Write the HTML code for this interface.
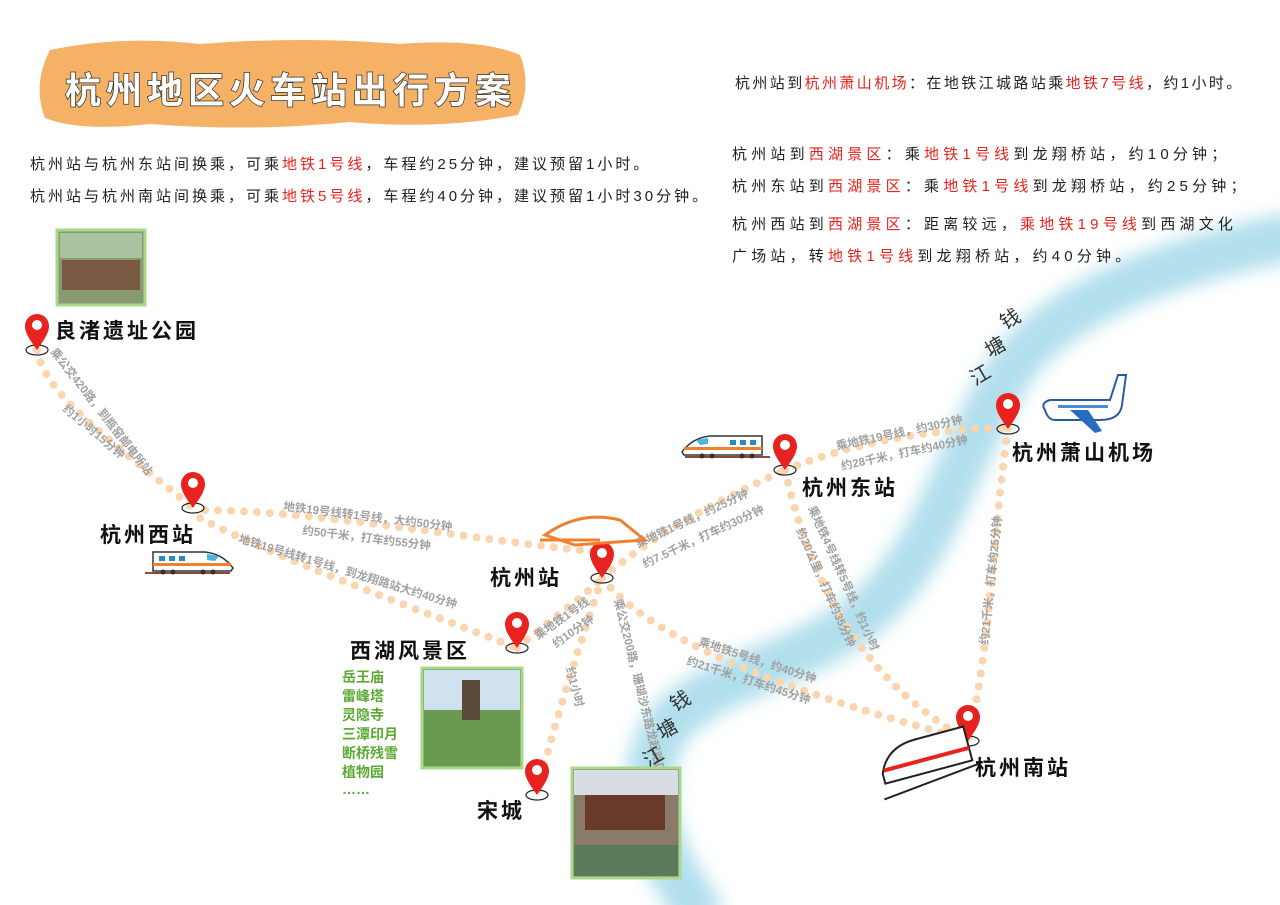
<!DOCTYPE html>
<html><head><meta charset="utf-8"><style>
html,body{margin:0;padding:0;background:#fff}
svg{display:block}
text{font-family:"Liberation Sans","Noto Sans CJK SC",sans-serif}
.t{font-size:15px;fill:#222}
.r{fill:#e8231f}
.lbl{font-size:11.5px;fill:#a0a0a0;font-weight:bold}
.st{font-size:21px;font-weight:bold;fill:#111;letter-spacing:3px}
.g{font-size:14px;fill:#5aaa32;font-weight:bold}
.d{fill:none;stroke:#fad6ae;stroke-width:8;stroke-linecap:round;stroke-dasharray:0 13}
</style></head><body>
<svg width="1280" height="905" viewBox="0 0 1280 905" xmlns="http://www.w3.org/2000/svg">
<defs>
<filter id="bl" x="-20%" y="-20%" width="140%" height="140%"><feGaussianBlur stdDeviation="9"/></filter>
<g id="pin"><path d="M0,0 C-7,-10 -12,-17 -12,-24 A12,12 0 1 1 12,-24 C12,-17 7,-10 0,0Z" fill="#e8231f"/><circle cx="0" cy="-25" r="5" fill="#fff"/></g>
<g id="train"><rect x="0" y="24" width="85" height="2" fill="#8b4b3a"/><path d="M8,4 H60 Q78,6 88,20 L86,23 H8Z" fill="#fff" stroke="#333" stroke-width="1.5"/><rect x="8" y="15" width="78" height="3" fill="#f08030"/><rect x="14" y="8" width="6" height="5" fill="#2a8ac0"/><rect x="24" y="8" width="6" height="5" fill="#2a8ac0"/><rect x="34" y="8" width="6" height="5" fill="#2a8ac0"/><path d="M62,6 L74,8 L70,13 L62,12Z" fill="#4ab3e0"/><circle cx="18" cy="24" r="2.5" fill="#333"/><circle cx="28" cy="24" r="2.5" fill="#333"/><circle cx="58" cy="24" r="2.5" fill="#333"/><circle cx="68" cy="24" r="2.5" fill="#333"/></g>
</defs>
<g filter="url(#bl)" opacity="0.6">
<path d="M1300,235 C1170,260 1060,300 1010,370 C960,450 940,540 880,600 C810,670 710,670 665,730 C630,790 660,860 705,920" fill="none" stroke="#7ec9e0" stroke-width="48"/>
</g>
<path d="M50,50 Q120,35 200,44 Q300,36 400,44 Q480,38 520,55 Q532,85 518,115 Q440,130 350,122 Q250,132 150,124 Q80,132 45,118 Q32,85 50,50Z" fill="#f5b266"/>
<text x="65" y="103" font-size="36" font-weight="bold" fill="#fff" stroke="#333" stroke-width="1.5" paint-order="stroke" letter-spacing="5">杭州地区火车站出行方案</text>
<text class="t" x="30" y="169" font-size="14.5" letter-spacing="3">杭州站与杭州东站间换乘，可乘<tspan class="r">地铁1号线</tspan>，车程约25分钟，建议预留1小时。</text>
<text class="t" x="30" y="201" font-size="14.5" letter-spacing="3">杭州站与杭州南站间换乘，可乘<tspan class="r">地铁5号线</tspan>，车程约40分钟，建议预留1小时30分钟。</text>
<text class="t" x="735" y="88" letter-spacing="2.4">杭州站到<tspan class="r">杭州萧山机场</tspan>：在地铁江城路站乘<tspan class="r">地铁7号线</tspan>，约1小时。</text>
<g letter-spacing="4.2">
<text class="t" x="732" y="159">杭州站到<tspan class="r">西湖景区</tspan>：乘<tspan class="r">地铁1号线</tspan>到龙翔桥站，约10分钟；</text>
<text class="t" x="732" y="191">杭州东站到<tspan class="r">西湖景区</tspan>：乘<tspan class="r">地铁1号线</tspan>到龙翔桥站，约25分钟；</text>
<text class="t" x="732" y="229">杭州西站到<tspan class="r">西湖景区</tspan>：距离较远，<tspan class="r">乘地铁19号线</tspan>到西湖文化</text>
<text class="t" x="732" y="261">广场站，转<tspan class="r">地铁1号线</tspan>到龙翔桥站，约40分钟。</text>
</g>
<path class="d" d="M37,350 C45,395 110,440 193,508"/>
<path class="d" d="M205,510 C330,512 470,540 600,552"/>
<path class="d" d="M200,518 C280,560 420,610 517,648"/>
<path class="d" d="M517,648 C550,620 580,600 602,578"/>
<path class="d" d="M602,578 C660,530 720,500 785,470"/>
<path class="d" d="M785,470 C860,440 940,428 1008,428"/>
<path class="d" d="M785,470 C810,580 860,680 968,740"/>
<path class="d" d="M1008,428 C990,560 990,650 968,740"/>
<path class="d" d="M602,578 C660,650 820,700 968,740"/>
<path class="d" d="M602,578 C575,660 555,720 537,795"/>
<g class="lbl">
<text transform="translate(50,352) rotate(52)">乘公交420路，到瓶窑邮电所站</text>
<text transform="translate(62,410) rotate(40)">约1小时15分钟</text>
<text transform="translate(283,510) rotate(7)">地铁19号线转1号线，大约50分钟</text>
<text transform="translate(302,534) rotate(7)">约50千米，打车约55分钟</text>
<text transform="translate(238,542) rotate(17)">地铁19号线转1号线，到龙翔路站大约40分钟</text>
<text transform="translate(538,640) rotate(-35)">乘地铁1号线</text>
<text transform="translate(556,648) rotate(-35)">约10分钟</text>
<text transform="translate(638,548) rotate(-25)">乘地铁1号线，约25分钟</text>
<text transform="translate(645,568) rotate(-25)">约7.5千米，打车约30分钟</text>
<text transform="translate(837,450) rotate(-12)">乘地铁19号线，约30分钟</text>
<text transform="translate(842,470) rotate(-12)">约28千米，打车约40分钟</text>
<text transform="translate(808,508) rotate(66)">乘地铁4号线转5号线，约1小时</text>
<text transform="translate(796,530) rotate(66)">约20公里，打车约35分钟</text>
<text transform="translate(988,645) rotate(-84)">约21千米，打车约25分钟</text>
<text transform="translate(698,645) rotate(18)">乘地铁5号线，约40分钟</text>
<text transform="translate(686,664) rotate(18)">约21千米，打车约45分钟</text>
<text transform="translate(614,600) rotate(76)">乘公交200路，珊瑚沙东路龙起路口站</text>
<text transform="translate(566,668) rotate(76)">约1小时</text>
</g>
<g font-size="20" fill="#333">
<text transform="translate(1005,330) rotate(-30)">钱</text>
<text transform="translate(990,358) rotate(-30)">塘</text>
<text transform="translate(975,386) rotate(-30)">江</text>
<text transform="translate(675,712) rotate(-30)">钱</text>
<text transform="translate(662,740) rotate(-30)">塘</text>
<text transform="translate(648,768) rotate(-30)">江</text>
</g>
<g fill="none" stroke="#222" stroke-width="1.2">
<ellipse cx="37" cy="350" rx="11" ry="5"/><ellipse cx="193" cy="508" rx="11" ry="5"/><ellipse cx="602" cy="578" rx="11" ry="5"/><ellipse cx="785" cy="470" rx="11" ry="5"/><ellipse cx="1008" cy="429" rx="11" ry="5"/><ellipse cx="968" cy="741" rx="11" ry="5"/><ellipse cx="517" cy="648" rx="11" ry="5"/><ellipse cx="537" cy="795" rx="11" ry="5"/>
</g>
<use href="#pin" x="37" y="350"/><use href="#pin" x="193" y="508"/><use href="#pin" x="602" y="578"/><use href="#pin" x="785" y="470"/><use href="#pin" x="1008" y="429"/><use href="#pin" x="968" y="741"/><use href="#pin" x="517" y="648"/><use href="#pin" x="537" y="795"/>
<text class="st" x="55" y="338">良渚遗址公园</text>
<text class="st" x="100" y="542">杭州西站</text>
<text class="st" x="490" y="585">杭州站</text>
<text class="st" x="802" y="495">杭州东站</text>
<text class="st" x="1012" y="460">杭州萧山机场</text>
<text class="st" x="975" y="775">杭州南站</text>
<text class="st" x="350" y="658">西湖风景区</text>
<text class="st" x="477" y="818">宋城</text>
<g class="g"><text x="342" y="682">岳王庙</text><text x="342" y="701">雷峰塔</text><text x="342" y="720">灵隐寺</text><text x="342" y="739">三潭印月</text><text x="342" y="758">断桥残雪</text><text x="342" y="777">植物园</text><text x="342" y="794">……</text></g>
<rect x="57" y="230" width="88" height="75" fill="#8a9a70" stroke="#a8d88a" stroke-width="3"/>
<rect x="60" y="233" width="82" height="25" fill="#a9c2a0"/><rect x="62" y="260" width="78" height="30" fill="#7a5a45"/>
<rect x="422" y="668" width="100" height="100" fill="#6a9a50" stroke="#a8d88a" stroke-width="3"/>
<rect x="424" y="670" width="96" height="40" fill="#cfe0ee"/><rect x="462" y="680" width="18" height="40" fill="#5a4a3a"/>
<rect x="572" y="768" width="108" height="110" fill="#8a7a6a" stroke="#a8d88a" stroke-width="3"/>
<rect x="574" y="770" width="104" height="25" fill="#d8dde4"/><rect x="585" y="795" width="80" height="35" fill="#6a3a2a"/><rect x="574" y="845" width="104" height="31" fill="#5a7a5a"/>
<use href="#train" x="145" y="548"/>
<use href="#train" transform="translate(770,432) scale(-1,1)"/>
<g fill="none" stroke="#f08030" stroke-width="3"><path d="M545,535 Q580,510 620,520 L645,540 L575,545Z"/><path d="M540,540 H600"/></g>
<g transform="translate(875,745) rotate(-15)"><path d="M0,30 Q10,5 40,5 H90 V40 H0Z" fill="#fff" stroke="#222" stroke-width="2"/><rect x="2" y="25" width="88" height="4" fill="#e8231f"/><path d="M-5,55 L95,45" stroke="#222" stroke-width="2"/></g>
<g transform="translate(1040,365)"><path d="M5,45 Q0,38 10,35 H70 L78,10 L86,10 L82,40 Q80,55 60,55 H15 Q8,55 5,45Z" fill="#fff" stroke="#2a5aa0" stroke-width="2"/><path d="M30,45 L55,68 L62,66 L48,45Z" fill="#2a6ac0"/><rect x="18" y="40" width="50" height="3" fill="#4a8ad0"/></g>
</svg>
</body></html>
